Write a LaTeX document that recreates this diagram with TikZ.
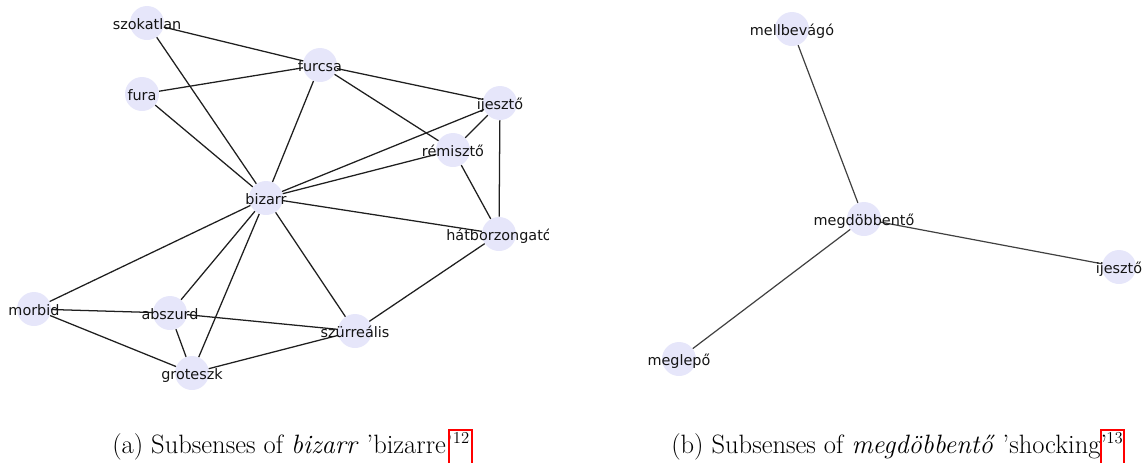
\documentclass[tikz,border=0pt]{standalone}
\usepackage{fontspec}
\newfontfamily\dv{DejaVu Sans}
\definecolor{lav}{HTML}{E6E6FA}
\definecolor{fnred}{HTML}{FF0000}
\tikzset{
  vert/.style={circle, fill=lav, minimum size=25.5pt, inner sep=0pt},
  lab/.style={font=\dv\fontsize{10.8}{12}\selectfont, inner sep=0pt, anchor=base, yshift=-4.5pt, text=black!92},
  edge/.style={draw=black!88, line width=0.95pt},
  edgeb/.style={draw=black!75, line width=0.9pt},
  capt/.style={font=\fontsize{19.9}{24}\selectfont, inner sep=0pt, anchor=base west},
  fnbox/.style={draw=fnred, line width=1.3pt, minimum width=17.25pt, minimum height=25.5pt, inner sep=0pt},
  fnnum/.style={font=\fontsize{12.5}{14}\selectfont, inner sep=0pt, anchor=base},
}
\begin{document}
\begin{tikzpicture}[x=0.75pt,y=-0.75pt]
\useasboundingbox (0,0) rectangle (1143,462);
% ---------- left panel ----------
\begin{scope}
\clip (0,0) rectangle (548,410);
\node[vert] (szokatlan) at (147,23) {};
\node[vert] (furcsa) at (320,65) {};
\node[vert] (fura) at (142,94) {};
\node[vert] (ijeszto) at (500,103) {};
\node[vert] (remiszto) at (453,150) {};
\node[vert] (bizarr) at (266,198) {};
\node[vert] (hatb) at (499,234) {};
\node[vert] (morbid) at (34,309) {};
\node[vert] (abszurd) at (170,313) {};
\node[vert] (szurr) at (355,331) {};
\node[vert] (groteszk) at (192,373) {};
\draw[edge] (szokatlan) -- (furcsa);
\draw[edge] (szokatlan) -- (bizarr);
\draw[edge] (fura) -- (furcsa);
\draw[edge] (fura) -- (bizarr);
\draw[edge] (furcsa) -- (bizarr);
\draw[edge] (furcsa) -- (ijeszto);
\draw[edge] (furcsa) -- (remiszto);
\draw[edge] (ijeszto) -- (bizarr);
\draw[edge] (ijeszto) -- (remiszto);
\draw[edge] (ijeszto) -- (hatb);
\draw[edge] (remiszto) -- (bizarr);
\draw[edge] (remiszto) -- (hatb);
\draw[edge] (bizarr) -- (hatb);
\draw[edge] (bizarr) -- (morbid);
\draw[edge] (bizarr) -- (abszurd);
\draw[edge] (bizarr) -- (groteszk);
\draw[edge] (bizarr) -- (szurr);
\draw[edge] (hatb) -- (szurr);
\draw[edge] (morbid) -- (abszurd);
\draw[edge] (abszurd) -- (szurr);
\draw[edge] (morbid) -- (groteszk);
\draw[edge] (abszurd) -- (groteszk);
\draw[edge] (groteszk) -- (szurr);
\node[lab] (lszokatlan) at (szokatlan) {szokatlan};
\node[lab] (lfurcsa) at (furcsa) {furcsa};
\node[lab] (lfura) at (fura) {fura};
\node[lab] (lijeszto) at (ijeszto) {ijesztő};
\node[lab] (lremiszto) at (remiszto) {rémisztő};
\node[lab] (lbizarr) at (bizarr) {bizarr};
\node[lab] (lhatb) at (hatb) {hátborzongató};
\node[lab] (lmorbid) at (morbid) {morbid};
\node[lab] (labszurd) at (abszurd) {abszurd};
\node[lab] (lszurr) at (szurr) {szürreális};
\node[lab] (lgroteszk) at (groteszk) {groteszk};
\end{scope}
% ---------- right panel ----------
\node[vert] (mellb) at (792,29) {};
\node[vert] (megd) at (864,219) {};
\node[vert] (ijeszto2) at (1119,267) {};
\node[vert] (meglepo) at (679,359) {};
\draw[edgeb] (mellb) -- (megd);
\draw[edgeb] (megd) -- (ijeszto2);
\draw[edgeb] (megd) -- (meglepo);
\node[lab] (lmellb) at (mellb) {mellbevágó};
\node[lab] (lmegd) at (megd) {megdöbbentő};
\node[lab] (lijeszto2) at (ijeszto2) {ijesztő};
\node[lab] (lmeglepo) at (meglepo) {meglepő};
% ---------- captions ----------
\node[capt] (capa) at (112,453) {(a) Subsenses of \textit{bizarr} 'bizarre'};
\node[fnbox] (fna) at (460.5,447) {};
\node[fnnum] (fnat) at (461,443) {12};
\node[capt] (capb) at (671,453) {(b) Subsenses of \textit{megdöbbentő} 'shocking'};
\node[fnbox] (fnb) at (1112.5,447) {};
\node[fnnum] (fnbt) at (1114.5,443) {13};
\end{tikzpicture}
\end{document}
